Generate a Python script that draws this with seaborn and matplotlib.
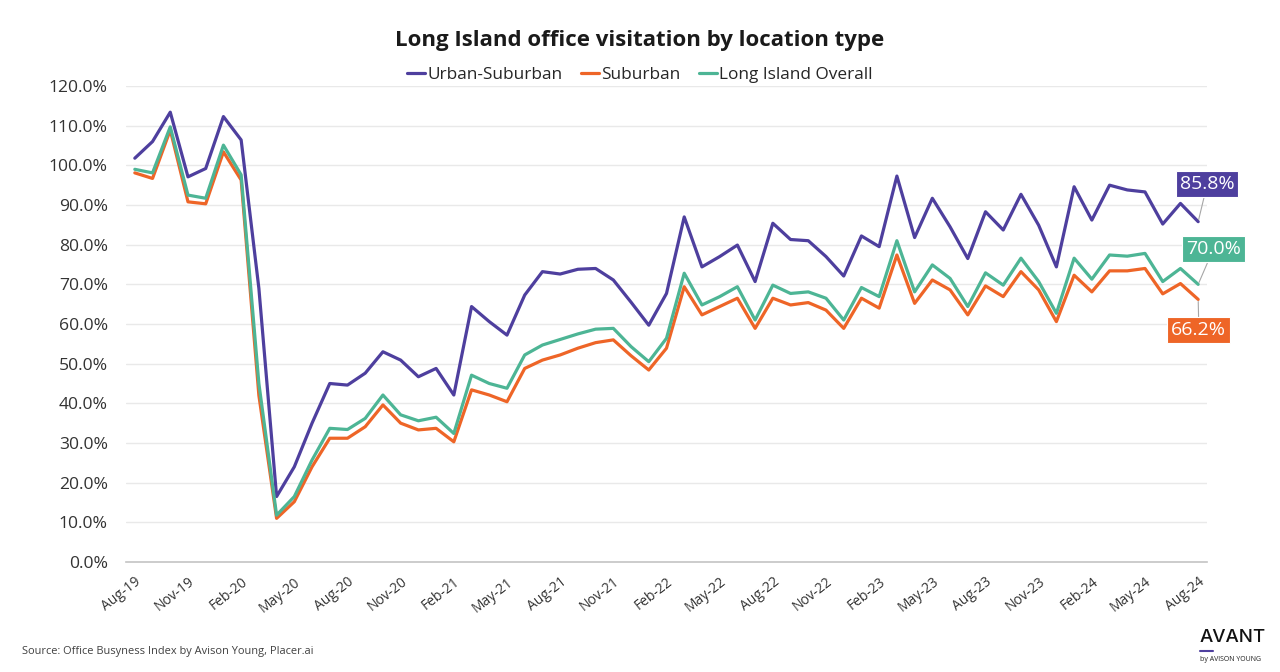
import numpy as np
import pandas as pd
import matplotlib.pyplot as plt
import seaborn as sns

# --- data (monthly, Aug-19 .. Aug-24), % of pre-pandemic visitation ---
MONTHS = pd.date_range("2019-08-01", periods=61, freq="MS")

urban_suburban = [101.8, 106.0, 113.4, 97.1, 99.2, 112.3, 106.4, 69.0, 16.5, 24.0,
                  35.0, 45.0, 44.6, 47.6, 53.0, 50.9, 46.7, 48.8, 42.1, 64.4,
                  60.6, 57.2, 67.3, 73.2, 72.6, 73.8, 74.0, 71.1, 65.5, 59.7,
                  67.7, 87.0, 74.4, 77.0, 79.9, 70.7, 85.4, 81.3, 81.0, 77.0,
                  72.1, 82.2, 79.5, 97.3, 81.8, 91.7, 84.5, 76.5, 88.3, 83.7,
                  92.7, 84.9, 74.4, 94.6, 86.2, 95.0, 93.8, 93.3, 85.2, 90.4,
                  85.8]
suburban = [98.1, 96.7, 108.9, 90.8, 90.3, 103.4, 96.3, 42.0, 11.0, 15.2,
            24.0, 31.2, 31.2, 34.1, 39.6, 35.0, 33.3, 33.7, 30.3, 43.4,
            42.1, 40.4, 48.8, 50.9, 52.2, 53.9, 55.3, 56.0, 52.0, 48.4,
            53.9, 69.4, 62.3, 64.4, 66.5, 58.9, 66.5, 64.8, 65.4, 63.5,
            58.9, 66.5, 64.0, 77.4, 65.2, 71.1, 68.6, 62.3, 69.6, 66.9,
            73.2, 68.6, 60.6, 72.3, 68.1, 73.4, 73.4, 74.0, 67.6, 70.2,
            66.2]
overall = [99.0, 98.1, 109.7, 92.5, 91.7, 105.1, 97.6, 45.0, 11.8, 16.5,
           25.7, 33.7, 33.4, 36.2, 42.1, 37.1, 35.6, 36.5, 32.4, 47.1,
           45.0, 43.8, 52.2, 54.7, 56.1, 57.5, 58.7, 58.9, 54.3, 50.5,
           56.4, 72.8, 64.8, 66.9, 69.4, 61.0, 69.8, 67.7, 68.1, 66.5,
           61.0, 69.2, 66.9, 81.0, 68.1, 74.9, 71.5, 64.4, 72.9, 69.8,
           76.6, 70.7, 62.7, 76.6, 71.3, 77.4, 77.1, 77.8, 70.7, 74.0,
           70.0]

SERIES = ["Urban-Suburban", "Suburban", "Long Island Overall"]
COLORS = {"Urban-Suburban": "#4E3F9E", "Suburban": "#EE6527",
          "Long Island Overall": "#4DB595"}
YTICKS = np.arange(0, 121, 10)

# --- long table for seaborn ---
df = pd.DataFrame({"idx": np.arange(len(MONTHS)),
                   "Urban-Suburban": urban_suburban,
                   "Suburban": suburban,
                   "Long Island Overall": overall})
long_df = df.melt(id_vars="idx", var_name="series", value_name="value")

sns.set_theme(style="white")
plt.rcParams["font.family"] = ["Open Sans", "DejaVu Sans"]

fig = plt.figure(figsize=(12.8, 6.72), dpi=100)
ax = fig.add_axes([0.0984, 0.1637, 0.8446, 0.7083])

sns.lineplot(data=long_df, x="idx", y="value", hue="series",
             hue_order=SERIES, palette=COLORS, linewidth=2.3,
             legend=False, ax=ax, zorder=3)

ax.set_xlim(-0.5, len(MONTHS) - 0.5)
ax.set_ylim(0, 120)
ax.set_yticks(YTICKS)
ax.set_yticklabels([f"{v:.1f}%" for v in YTICKS], fontsize=12.6, color="#333333")
xt = np.arange(0, len(MONTHS), 3)
ax.set_xticks(xt)
ax.set_xticklabels([MONTHS[i].strftime("%b-%y") for i in xt], rotation=38,
                   ha="right", rotation_mode="anchor", fontsize=10, color="#333333")
ax.tick_params(axis="both", length=0)
ax.tick_params(axis="x", pad=9)
ax.tick_params(axis="y", pad=13)
ax.set_xlabel("")
ax.set_ylabel("")
ax.grid(axis="y", color="#e9e9e9", linewidth=1)
ax.set_axisbelow(True)
for s in ["top", "right", "left"]:
    ax.spines[s].set_visible(False)
ax.spines["bottom"].set_color("#c4c4c4")
ax.spines["bottom"].set_linewidth(1.2)
ax.spines["bottom"].set_zorder(1)

# end-of-line value labels
last = len(MONTHS) - 1
offsets = {"Urban-Suburban": (6.5, 27), "Long Island Overall": (11, 25.5),
           "Suburban": (0.5, -22)}
for name in SERIES:
    val = df[name].iloc[-1]
    ax.annotate(f"{val:.1f}%", xy=(last, val), xytext=offsets[name],
                textcoords="offset points", ha="center", va="center",
                fontsize=14, color="white", annotation_clip=False,
                bbox=dict(boxstyle="square,pad=0.2", fc=COLORS[name],
                          ec="white", lw=0.8),
                arrowprops=dict(arrowstyle="-", color="#a6a6a6", lw=0.8,
                                shrinkA=0, shrinkB=1.5),
                zorder=5)

# title and legend
fig.text(0.5, 0.94, "Long Island office visitation by location type",
         ha="center", va="center", fontsize=16, fontweight="bold",
         color="#1a1a1a")
handles = [plt.Line2D([], [], color=COLORS[n], lw=2.3) for n in SERIES]
fig.legend(handles, SERIES, loc="center", bbox_to_anchor=(0.5, 0.888),
           ncol=3, frameon=False, fontsize=12.4, handlelength=1.0,
           handletextpad=0.15, columnspacing=1.1, labelcolor="#262626")

# footer
fig.text(0.017, 0.031, "Source: Office Busyness Index by Avison Young, Placer.ai",
         ha="left", va="center", fontsize=7.9, color="#404040")
fig.text(0.9375, 0.052, "AVANT", ha="left", va="center", fontsize=13.5,
         color="#111111", family=["Inter", "DejaVu Sans"], fontweight="medium")
fig.add_artist(plt.Line2D([0.9375, 0.948], [0.031, 0.031], color="#4E3F9E",
                          lw=1.5, transform=fig.transFigure))
fig.text(0.9375, 0.018, "by AVISON YOUNG", ha="left", va="center",
         fontsize=5, color="#222222")

fig.savefig("out.png", dpi=100)
